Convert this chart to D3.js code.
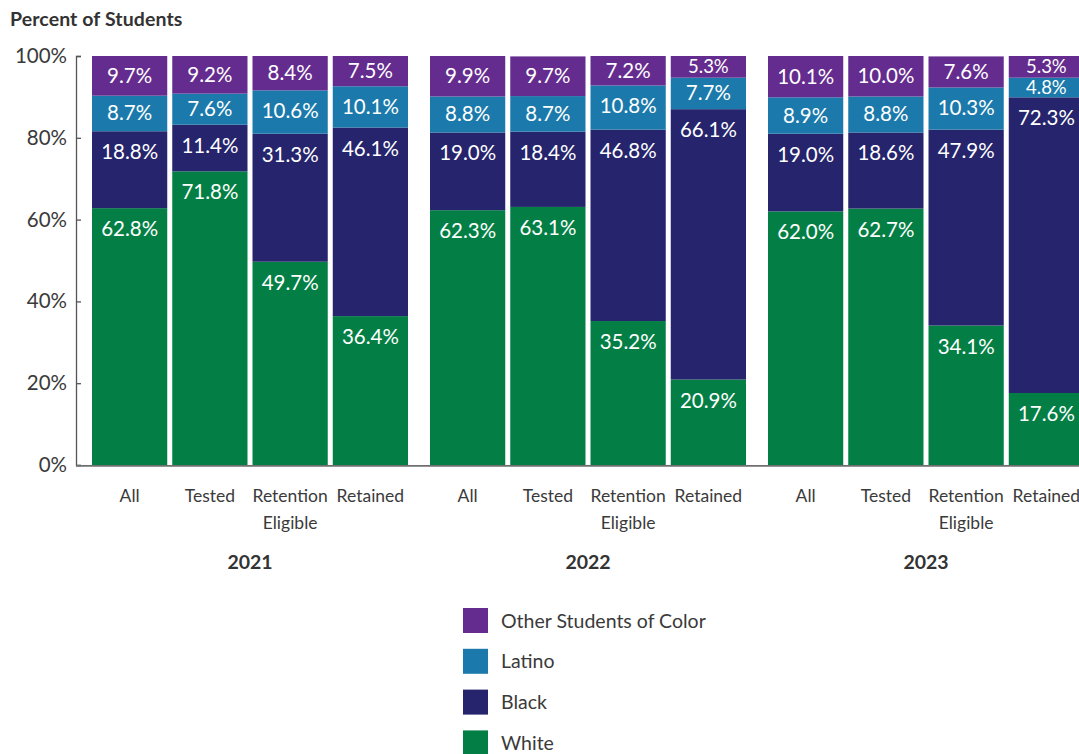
<!DOCTYPE html>
<html>
<head>
<meta charset="utf-8">
<script src="https://cdn.jsdelivr.net/npm/d3@7"></script>
<style>
  html, body { margin: 0; padding: 0; background: #fff; }
  svg { display: block; font-family: Lato, "Open Sans", sans-serif; }
</style>
</head>
<body>
<svg id="chart" width="1079" height="754"></svg>
<script>
// Student composition by race/ethnicity, per year and group
const years = ["2021", "2022", "2023"];
const groups = ["All", "Tested", "Retention Eligible", "Retained"];
const groupLines = [["All"], ["Tested"], ["Retention", "Eligible"], ["Retained"]];
const seriesNames = ["White", "Black", "Latino", "Other Students of Color"];
const legendOrder = ["Other Students of Color", "Latino", "Black", "White"];
const yTicks = [0, 20, 40, 60, 80, 100];

// values listed in year order, each with the four groups
const white  = [62.8, 71.8, 49.7, 36.4,  62.3, 63.1, 35.2, 20.9,  62.0, 62.7, 34.1, 17.6];
const black  = [18.8, 11.4, 31.3, 46.1,  19.0, 18.4, 46.8, 66.1,  19.0, 18.6, 47.9, 72.3];
const latino = [ 8.7,  7.6, 10.6, 10.1,   8.8,  8.7, 10.8,  7.7,   8.9,  8.8, 10.3,  4.8];
const other  = [ 9.7,  9.2,  8.4,  7.5,   9.9,  9.7,  7.2,  5.3,  10.1, 10.0,  7.6,  5.3];

const colors = {
  "White": "#037f45",
  "Black": "#25246c",
  "Latino": "#1b7aab",
  "Other Students of Color": "#652c8f"
};

const rows = [];
years.forEach((yr, i) => {
  groups.forEach((g, j) => {
    const k = i * groups.length + j;
    rows.push({ year: yr, group: g, White: white[k], Black: black[k], Latino: latino[k], "Other Students of Color": other[k] });
  });
});

const svg = d3.select("#chart");
const textColor = "#3a3a3a";

const x0 = d3.scaleBand().domain(years).range([92, 1084]).paddingInner(22 / 338).paddingOuter(0);
const x1 = d3.scaleBand().domain(groups).range([0, x0.bandwidth()]).paddingInner(0.0625).paddingOuter(0);
const y = d3.scaleLinear().domain([0, 100]).range([465, 56]);

// Title
svg.append("text")
  .attr("x", 10).attr("y", 26)
  .attr("font-size", 19.5).attr("font-weight", 700)
  .attr("fill", "#333")
  .attr("letter-spacing", "0.1")
  .text("Percent of Students");

// Stacked bars
const stack = d3.stack().keys(seriesNames);
const stacked = stack(rows);

const layer = svg.append("g").selectAll("g")
  .data(stacked).join("g")
  .attr("fill", d => colors[d.key]);

layer.selectAll("rect")
  .data(d => d.map(v => ({ v, key: d.key })))
  .join("rect")
  .attr("x", d => x0(d.v.data.year) + x1(d.v.data.group))
  .attr("width", x1.bandwidth())
  .attr("y", d => y(Math.min(100, d.v[1])))
  .attr("height", d => y(d.v[0]) - y(Math.min(100, d.v[1])));

// Value labels near the top of each segment; thin segments get a smaller label
const labels = svg.append("g").attr("fill", "#fff").attr("text-anchor", "middle");
stacked.forEach(s => {
  s.forEach(v => {
    const top = y(Math.min(100, v[1]));
    const h = y(v[0]) - top;
    const thin = h < 25;
    const cy = top + Math.min(h / 2, 21);
    labels.append("text")
      .attr("x", x0(v.data.year) + x1(v.data.group) + x1.bandwidth() / 2)
      .attr("y", cy + (thin ? 6.5 : 7))
      .attr("font-size", thin ? 18.5 : 20.5)
      .text(d3.format(".1f")(v.data[s.key]) + "%");
  });
});

// Y axis
const yAxis = d3.axisLeft(y).tickValues(yTicks).tickFormat(d => d + "%").tickSizeInner(-5).tickSizeOuter(-5).tickPadding(10);
const ya = svg.append("g").attr("transform", "translate(76,0)").call(yAxis);
ya.select(".domain").attr("stroke", "#555").attr("stroke-width", 1.3);
ya.selectAll(".tick line").attr("stroke", "#555").attr("stroke-width", 1.3);
ya.selectAll(".tick text")
  .attr("x", -9)
  .attr("font-size", 20.5).attr("fill", textColor)
  .attr("font-family", "Lato, 'Open Sans', sans-serif");

// Baseline
svg.append("line")
  .attr("x1", 76).attr("x2", 1079)
  .attr("y1", y(0) + 0.8).attr("y2", y(0) + 0.8)
  .attr("stroke", "#6f6f6f").attr("stroke-width", 1.8);

// Group labels under each bar
const catG = svg.append("g").attr("font-size", 17.5).attr("fill", textColor).attr("text-anchor", "middle");
years.forEach(yr => {
  groups.forEach((g, j) => {
    const cx = x0(yr) + x1(g) + x1.bandwidth() / 2;
    groupLines[j].forEach((line, li) => {
      catG.append("text").attr("x", cx).attr("y", 502 + li * 27).text(line);
    });
  });
  svg.append("text")
    .attr("x", x0(yr) + x0.bandwidth() / 2)
    .attr("y", 569)
    .attr("text-anchor", "middle")
    .attr("font-size", 19.5).attr("font-weight", 700).attr("fill", "#333")
    .text(yr);
});

// Legend
const legend = svg.append("g").attr("transform", "translate(463,608)");
legendOrder.forEach((name, i) => {
  const g = legend.append("g").attr("transform", `translate(0,${i * 40.8})`);
  g.append("rect").attr("width", 25).attr("height", 25).attr("fill", colors[name]);
  g.append("text").attr("x", 38).attr("y", 19.5)
    .attr("font-size", 19.5).attr("fill", textColor).text(name);
});
</script>
</body>
</html>
